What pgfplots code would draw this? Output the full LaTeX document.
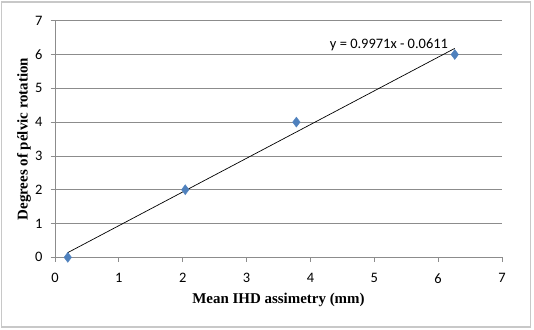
\documentclass[border=0pt]{standalone}
\usepackage{pgfplots}
\pgfplotsset{compat=1.18}
\usepackage{fontspec}
\setmainfont{Carlito}
\newfontfamily\timesfont{Liberation Serif}
\definecolor{markblue}{HTML}{4F81BD}
\definecolor{gridgray}{HTML}{8C8C8C}
\definecolor{framegray}{HTML}{C8C8C8}

\begin{document}
\begin{tikzpicture}[x=1bp,y=1bp]
\useasboundingbox (0,0) rectangle (534,329);
\draw[framegray, line width=1.2bp] (1.5,2) rectangle (530.7,327);
\begin{axis}[
  at={(55bp,71.7bp)}, anchor=south west,
  scale only axis, width=447bp, height=236.6bp,
  xmin=0, xmax=7, ymin=0, ymax=7,
  xtick={0,...,7}, ytick={0,...,7},
  axis x line*=bottom, axis y line*=left,
  axis line style={gridgray, line width=0.8bp},
  ymajorgrids, grid style={gridgray, line width=0.8bp},
  tick align=outside, major tick length=4.5bp,
  tick style={gridgray, line width=0.8bp},
  /pgf/number format/assume math mode=true,
  ticklabel style={font=\fontsize{14.5}{16}\selectfont, text=black},
  xticklabel style={yshift=-8bp},
  yticklabel style={xshift=-4.5bp},
  xlabel={\timesfont\bfseries Mean IHD assimetry (mm)},
  ylabel={\timesfont\bfseries Degrees of pélvic rotation},
  label style={font=\fontsize{15}{17}\selectfont},
  xlabel style={yshift=-3bp},
  ylabel style={yshift=-2.5bp},
  clip=false,
]
% linear trendline
\addplot[black, line width=0.7bp, no markers] coordinates {(0.2,0.1383) (6.26,6.1807)};
% measurements
\addplot[only marks, mark=diamond*, mark size=5bp, mark options={fill=markblue, draw=markblue}]
  coordinates {(0.2,0) (2.04,2) (3.78,4) (6.26,6)};
\node[font=\fontsize{14.5}{16}\selectfont] at (axis cs:5.23,6.3) {y = 0.9971x - 0.0611};
\end{axis}
\end{tikzpicture}
\end{document}
